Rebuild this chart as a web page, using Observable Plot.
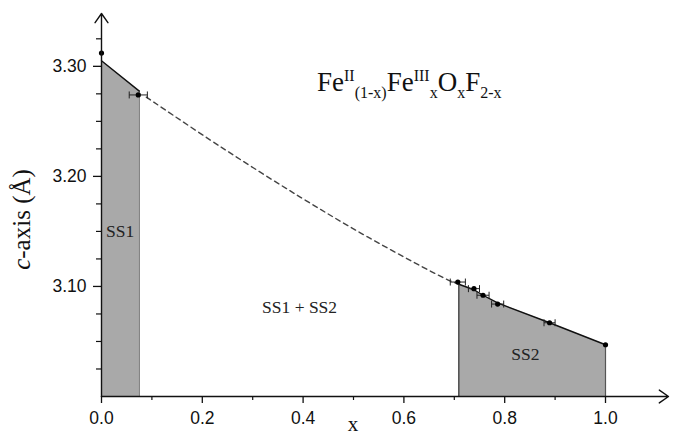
<!DOCTYPE html>
<html><head><meta charset="utf-8">
<script src="https://cdn.jsdelivr.net/npm/d3@7"></script>
<script src="https://cdn.jsdelivr.net/npm/@observablehq/plot@0.6"></script>
<style>html,body{margin:0;padding:0;background:#fff;}</style>
</head><body>
<div id="chart"></div>
<script>
// ---- data ----
const xMajorTicks = [0, 0.2, 0.4, 0.6, 0.8, 1.0];
const xMinorTicks = [0.1, 0.3, 0.5, 0.7, 0.9];
const yMajorTicks = [3.10, 3.20, 3.30];
const yMinorTicks = [3.025, 3.05, 3.075, 3.125, 3.15, 3.175, 3.225, 3.25, 3.275, 3.325];

const ss1X = [0, 0.075];
const ss1Y = [3.305, 3.2775];
const ss2X = [0.709, 0.739, 0.757, 0.786, 0.889, 1.0];
const ss2Y = [3.102, 3.097, 3.092, 3.085, 3.067, 3.047];

const curveX = [0.089, 0.236, 0.395, 0.528, 0.687, 0.709];
const curveY = [3.272, 3.227, 3.181, 3.145, 3.106, 3.102];

const pointX   = [0, 0.073, 0.707, 0.739, 0.757, 0.786, 0.889, 1.0];
const pointY   = [3.312, 3.274, 3.104, 3.098, 3.092, 3.084, 3.067, 3.047];
const pointErr = [0, 0.018, 0.015, 0.011, 0.012, 0.012, 0.011, 0];

const regionLabels = ["SS1", "SS1 + SS2", "SS2"];
const regionX = [0.037, 0.393, 0.841];
const regionY = [3.150, 3.081, 3.038];

const xDomain = [0, 1.125];
const yDomain = [3.0, 3.348];

// ---- tables ----
const ss1 = ss1X.map((x, i) => ({x, y: ss1Y[i]}));
const ss2 = ss2X.map((x, i) => ({x, y: ss2Y[i]}));
const curve = curveX.map((x, i) => ({x, y: curveY[i]}));
const points = pointX.map((x, i) => ({x, y: pointY[i], e: pointErr[i]}));
const errs = points.filter(d => d.e > 0);
const labels = regionLabels.map((t, i) => ({t, x: regionX[i], y: regionY[i]}));

const capSymbol = {draw(ctx, size) { const r = Math.sqrt(size / Math.PI); ctx.moveTo(0, -r); ctx.lineTo(0, r); }};

const serif = "Liberation Serif, Times New Roman, serif";

const plot = Plot.plot({
  width: 678, height: 436,
  marginLeft: 101, marginRight: 10, marginTop: 13, marginBottom: 40,
  x: {domain: xDomain},
  y: {domain: yDomain},
  style: {fontFamily: "Liberation Sans, Arial, sans-serif", background: "#fff", color: "#111"},
  marks: [
    // shaded single-phase regions
    Plot.areaY(ss1, {x: "x", y1: yDomain[0], y2: "y", fill: "#a9a9a9"}),
    Plot.areaY(ss2, {x: "x", y1: yDomain[0], y2: "y", fill: "#a9a9a9"}),
    Plot.ruleX([ss1X[ss1X.length - 1]], {y1: yDomain[0], y2: ss1Y[ss1Y.length - 1], stroke: "#777", strokeWidth: 1.2}),
    Plot.ruleX([ss2X[0]], {y1: yDomain[0], y2: ss2Y[0], stroke: "#333", strokeWidth: 1.2}),
    Plot.ruleX([ss2X[ss2X.length - 1]], {y1: yDomain[0], y2: ss2Y[ss2Y.length - 1], stroke: "#555", strokeWidth: 1.2}),
    Plot.line(ss1, {x: "x", y: "y", stroke: "#111", strokeWidth: 1.4}),
    Plot.line(ss2, {x: "x", y: "y", stroke: "#111", strokeWidth: 1.4}),
    // dashed two-phase curve
    Plot.line(curve, {x: "x", y: "y", curve: "catmull-rom", stroke: "#444", strokeWidth: 1.4, strokeDasharray: "5,4"}),
    // error bars
    Plot.link(errs, {x1: d => d.x - d.e, x2: d => d.x + d.e, y1: "y", y2: "y", stroke: "#222", strokeWidth: 1}),
    Plot.dot(errs, {x: d => d.x - d.e, y: "y", symbol: capSymbol, r: 3.5, stroke: "#222", strokeWidth: 1}),
    Plot.dot(errs, {x: d => d.x + d.e, y: "y", symbol: capSymbol, r: 3.5, stroke: "#222", strokeWidth: 1}),
    Plot.dot(points, {x: "x", y: "y", r: 2.6, fill: "#000"}),
    // region labels
    Plot.text(labels, {x: "x", y: "y", text: "t", fontFamily: serif, fontSize: 17.5, fill: "#222"}),
    // axes
    Plot.axisX({ticks: xMajorTicks, tickFormat: ".1f", tickSize: 7, tickPadding: 8, fontSize: 17.5, label: null, stroke: "#111", strokeWidth: 1.3}),
    Plot.axisX({ticks: xMinorTicks, tickSize: 4, text: null, label: null, stroke: "#111", strokeWidth: 1.2}),
    Plot.axisY({ticks: yMajorTicks, tickFormat: ".2f", tickSize: 8, tickPadding: 7, fontSize: 17.5, label: null, stroke: "#111", strokeWidth: 1.3}),
    Plot.axisY({ticks: yMinorTicks, tickSize: 5, text: null, label: null, stroke: "#111", strokeWidth: 1.2}),
    Plot.arrow([{x1: xDomain[0], y1: yDomain[0], x2: xDomain[1], y2: yDomain[0]}], {x1: "x1", y1: "y1", x2: "x2", y2: "y2", stroke: "#111", strokeWidth: 1.4, headLength: 12, headAngle: 70}),
    Plot.arrow([{x1: xDomain[0], y1: yDomain[0], x2: xDomain[0], y2: yDomain[1]}], {x1: "x1", y1: "y1", x2: "x2", y2: "y2", stroke: "#111", strokeWidth: 1.4, headLength: 12, headAngle: 70})
  ]
});

document.getElementById("chart").appendChild(plot);

// ---- rich-text annotations ----
const svg = d3.select(plot);
const sx = plot.scale("x"), sy = plot.scale("y");

// formula
const formulaX = 0.4286, formulaY = 3.277;
const formulaParts = [
  ["Fe", 0], ["II", -1], ["(1-x)", 1], ["Fe", 0], ["III", -1], ["x", 1],
  ["O", 0], ["x", 1], ["F", 0], ["2-x", 1]
];
const offs = {0: 0, [-1]: -10, 1: 7};
const ft = svg.append("text")
  .attr("x", sx.apply(formulaX)).attr("y", sy.apply(formulaY))
  .attr("text-anchor", "start")
  .attr("font-family", serif).attr("font-size", 27).attr("fill", "#111");
let level = 0;
for (const [s, lv] of formulaParts) {
  ft.append("tspan").attr("dy", offs[lv] - offs[level]).attr("font-size", lv === 0 ? 27 : 16).text(s);
  level = lv;
}

// y axis title
const yt = svg.append("text")
  .attr("transform", `translate(30,${(sy.apply(yDomain[0]) + sy.apply(yDomain[1])) / 2 + 15}) rotate(-90)`)
  .attr("text-anchor", "middle")
  .attr("font-family", serif).attr("font-size", 25).attr("fill", "#111");
yt.append("tspan").attr("font-style", "italic").text("c");
yt.append("tspan").text("-axis (Å)");

// x axis title
svg.append("text")
  .attr("x", sx.apply(0.5)).attr("y", 431)
  .attr("text-anchor", "middle")
  .attr("font-family", serif).attr("font-size", 21).attr("fill", "#111")
  .text("x");
</script>
</body></html>
